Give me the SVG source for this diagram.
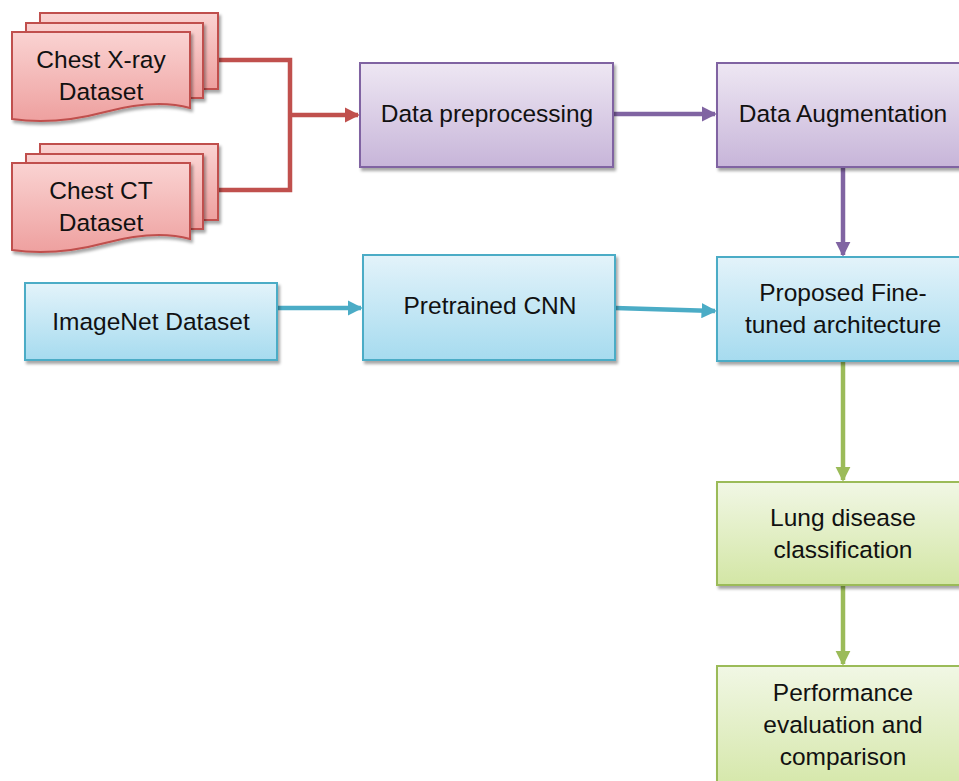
<svg xmlns="http://www.w3.org/2000/svg" width="959" height="781" viewBox="0 0 959 781">
<defs>
<linearGradient id="gRed" x1="0" y1="0" x2="0" y2="1"><stop offset="0" stop-color="#fad3d2"/><stop offset="1" stop-color="#eea09f"/></linearGradient>
<linearGradient id="gPur" x1="0" y1="0" x2="0" y2="1"><stop offset="0" stop-color="#eee7f3"/><stop offset="1" stop-color="#c7b5d9"/></linearGradient>
<linearGradient id="gBlu" x1="0" y1="0" x2="0" y2="1"><stop offset="0" stop-color="#e3f3fa"/><stop offset="1" stop-color="#a6dbef"/></linearGradient>
<linearGradient id="gGrn" x1="0" y1="0" x2="0" y2="1"><stop offset="0" stop-color="#f1f7e5"/><stop offset="1" stop-color="#d3e6a5"/></linearGradient>
<filter id="sh" x="-10%" y="-10%" width="130%" height="140%"><feDropShadow dx="2" dy="3" stdDeviation="1.5" flood-color="#000" flood-opacity="0.35"/></filter>
<marker id="aRed" markerWidth="3.4" markerHeight="3.4" refX="3" refY="1.7" orient="auto" markerUnits="strokeWidth"><path d="M0,0 L3.4,1.7 L0,3.4 Z" fill="#c0504d"/></marker>
<marker id="aPur" markerWidth="3.4" markerHeight="3.4" refX="3" refY="1.7" orient="auto" markerUnits="strokeWidth"><path d="M0,0 L3.4,1.7 L0,3.4 Z" fill="#8064a2"/></marker>
<marker id="aBlu" markerWidth="3.4" markerHeight="3.4" refX="3" refY="1.7" orient="auto" markerUnits="strokeWidth"><path d="M0,0 L3.4,1.7 L0,3.4 Z" fill="#4bacc6"/></marker>
<marker id="aGrn" markerWidth="3.4" markerHeight="3.4" refX="3" refY="1.7" orient="auto" markerUnits="strokeWidth"><path d="M0,0 L3.4,1.7 L0,3.4 Z" fill="#9bbb59"/></marker>
</defs>
<style>
text{font-family:"Liberation Sans",Arial,sans-serif;font-size:24.5px;fill:#111;text-anchor:middle}
.doc{fill:url(#gRed);stroke:#c0504d;stroke-width:2;filter:url(#sh)}
.pur{fill:url(#gPur);stroke:#8064a2;stroke-width:2;filter:url(#sh)}
.blu{fill:url(#gBlu);stroke:#4bacc6;stroke-width:2;filter:url(#sh)}
.grn{fill:url(#gGrn);stroke:#9bbb59;stroke-width:2;filter:url(#sh)}
.c{fill:none;stroke-width:4.5}
</style>
<g id="connectors">
<path class="c" stroke="#c0504d" d="M218,60 H290 V190 H218"/>
<path class="c" stroke="#c0504d" d="M290,115 H358" marker-end="url(#aRed)"/>
<path class="c" stroke="#8064a2" d="M613,114 H715" marker-end="url(#aPur)"/>
<path class="c" stroke="#8064a2" d="M843,167 V255" marker-end="url(#aPur)"/>
<path class="c" stroke="#4bacc6" d="M277,308 H361" marker-end="url(#aBlu)"/>
<path class="c" stroke="#4bacc6" d="M615,308 L715,311" marker-end="url(#aBlu)"/>
<path class="c" stroke="#9bbb59" d="M843,361 V480" marker-end="url(#aGrn)"/>
<path class="c" stroke="#9bbb59" d="M843,585 V664" marker-end="url(#aGrn)"/>
</g>
<g id="chest-xray">
<path class="doc" d="M40,13 H218 V89 H203 V23 H40 Z"/>
<path class="doc" d="M26,23 H203 V98 H190 V32 H26 Z"/>
<path class="doc" d="M12,32 H190 V108 C165,101 135,104 105,112 C75,120 45,124 12,119 Z"/>
<text x="101" y="68">Chest X-ray</text>
<text x="101" y="100">Dataset</text>
</g>
<g id="chest-ct">
<path class="doc" d="M40,144 H218 V220 H203 V154 H40 Z"/>
<path class="doc" d="M26,154 H203 V229 H190 V163 H26 Z"/>
<path class="doc" d="M12,163 H190 V239 C165,232 135,235 105,243 C75,251 45,255 12,250 Z"/>
<text x="101" y="199">Chest CT</text>
<text x="101" y="231">Dataset</text>
</g>
<g id="data-preprocessing">
<rect class="pur" x="360" y="63" width="253" height="104"/>
<text x="487" y="122">Data preprocessing</text>
</g>
<g id="data-augmentation">
<rect class="pur" x="717" y="63" width="253" height="104"/>
<text x="843" y="122">Data Augmentation</text>
</g>
<g id="imagenet">
<rect class="blu" x="25" y="283" width="252" height="77"/>
<text x="151" y="330">ImageNet Dataset</text>
</g>
<g id="pretrained-cnn">
<rect class="blu" x="363" y="255" width="252" height="105"/>
<text x="490" y="314">Pretrained CNN</text>
</g>
<g id="proposed">
<rect class="blu" x="717" y="257" width="253" height="104"/>
<text x="843" y="301">Proposed Fine-</text>
<text x="843" y="333">tuned architecture</text>
</g>
<g id="lung-disease">
<rect class="grn" x="717" y="482" width="253" height="103"/>
<text x="843" y="526">Lung disease</text>
<text x="843" y="558">classification</text>
</g>
<g id="performance">
<rect class="grn" x="717" y="666" width="253" height="130"/>
<text x="843" y="701">Performance</text>
<text x="843" y="733">evaluation and</text>
<text x="843" y="765">comparison</text>
</g>
</svg>
